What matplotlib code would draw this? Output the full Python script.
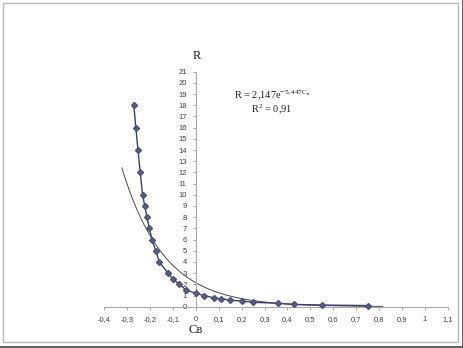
import numpy as np
import matplotlib.pyplot as plt
from matplotlib.patches import Rectangle

# experimental points
cb = [-0.27, -0.261, -0.252, -0.242, -0.232, -0.222, -0.213, -0.202, -0.191,
      -0.174, -0.159, -0.121, -0.101, -0.071, -0.043, 0.0, 0.034, 0.08, 0.11,
      0.15, 0.20, 0.25, 0.36, 0.43, 0.55, 0.75]
r_vals = [18, 16, 14, 12, 10, 9, 8, 7, 6, 5, 4, 3, 2.5, 2, 1.5, 1.2, 1.0, 0.8,
          0.7, 0.6, 0.5, 0.4, 0.3, 0.2, 0.15, 0.1]

# exponential trendline R = a*exp(b*Cb)
a_coef = 2.147
b_coef = -5.447
trend_start = -0.322
trend_end = 0.815

x_ticks = [-0.4, -0.3, -0.2, -0.1, 0, 0.1, 0.2, 0.3, 0.4, 0.5, 0.6, 0.7,
           0.8, 0.9, 1.0, 1.1]
x_labels = ['-0,4', '-0,3', '-0,2', '-0,1', '0', '0,1', '0,2', '0,3', '0,4',
            '0,5', '0,6', '0,7', '0,8', '0,9', '1', '1,1']
y_ticks = list(range(0, 22))

plt.rcParams['mathtext.fontset'] = 'custom'
plt.rcParams['mathtext.rm'] = 'Liberation Serif'
plt.rcParams['mathtext.it'] = 'Liberation Serif'

fig = plt.figure(figsize=(4.64, 3.48), dpi=100)
fig.patch.set_facecolor('white')

# chart frame
fig.patches.append(Rectangle((3 / 464, 1 - 342 / 348), 455 / 464, 339.5 / 348,
                             transform=fig.transFigure, fill=False,
                             edgecolor='#b8b8b8', lw=1.0))
fig.add_artist(plt.Line2D([0, 1], [0.6 / 348, 0.6 / 348], transform=fig.transFigure,
                          color='#606060', lw=1.4))
fig.add_artist(plt.Line2D([463.3 / 464, 463.3 / 464], [0, 1], transform=fig.transFigure,
                          color='#606060', lw=1.4))

ax = fig.add_axes([104 / 464, 1 - 306.7 / 348, 344 / 464, 235 / 348])
ax.set_xlim(-0.4, 1.1)
ax.set_ylim(0, 21)
ax.patch.set_alpha(0)

for s in ['top', 'right']:
    ax.spines[s].set_visible(False)
ax.spines['left'].set_position(('data', 0))
ax.spines['bottom'].set_position(('data', 0))
for s in ['left', 'bottom']:
    ax.spines[s].set_color('#a8a8a8')
    ax.spines[s].set_linewidth(0.8)

ax.set_xticks(x_ticks)
ax.set_xticklabels(x_labels)
ax.set_yticks(y_ticks)
ax.tick_params(axis='both', colors='#a8a8a8', labelcolor='#404040',
               labelsize=5.5, length=2.5, width=0.7, direction='out', pad=4)
for lbl in ax.get_xticklabels() + ax.get_yticklabels():
    lbl.set_family('Liberation Sans')

xt = np.linspace(trend_start, trend_end, 200)
ax.plot(xt, a_coef * np.exp(b_coef * xt), color='#4a4a4a', lw=0.7, zorder=2)

ax.plot(cb, r_vals, color='#3b3f66', lw=1.0, marker='D', markersize=3.0,
        markerfacecolor='#5a5f8e', markeredgecolor='#4a4e7c', zorder=3,
        clip_on=False)

fig.text(197 / 464, 1 - 56 / 348, 'R', family='Liberation Serif', fontsize=9,
         ha='center', va='center', color='#202020')
fig.text(196 / 464, 1 - 330 / 348, 'Cв', family='Liberation Serif', fontsize=9,
         ha='center', va='center', color='#202020')

fig.text(272 / 464, 1 - 95 / 348, r'R = 2,147e$^{\mathrm{-5,447C}_{\mathrm{в}}}$',
         family='Liberation Serif', fontsize=7.5, ha='center', va='center',
         color='#202020')
fig.text(272 / 464, 1 - 109 / 348, r'R$^{\mathrm{2}}$ = 0,91',
         family='Liberation Serif', fontsize=7.5, ha='center', va='center',
         color='#202020')

fig.savefig('out.png', dpi=100)
